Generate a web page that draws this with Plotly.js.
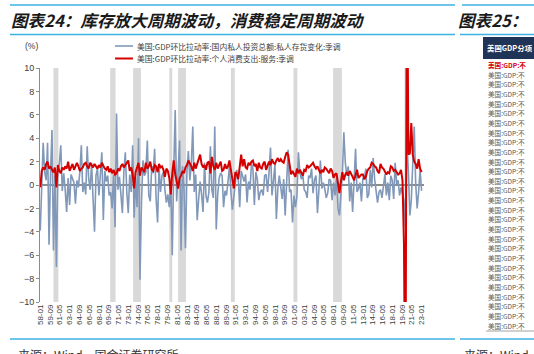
<!DOCTYPE html>
<html><head><meta charset="utf-8">
<script src="https://cdn.plot.ly/plotly-3.0.1.min.js"></script>
<style>html,body{margin:0;padding:0;background:#fff;overflow:hidden}#chart{width:534px;height:354px}</style>
</head><body><div id="chart"></div>
<script>
const START_YEAR = 1958;
const INVENTORY = [
-3.9,-0.6,3.6,1.1, 0.4,3.6,-5.1,1.0, 4.7,-5.6,0.8,-7.0, 1.2,1.8,3.4,-0.5,
1.0,-0.4,-2.3,0.6, -1.7,0.9,0.5,0.2, -1.6,0.4,-0.2,1.1, 3.4,-0.6,0.2,-0.8,
3.3,0.6,-0.4,1.9, -1.2,-4.0,0.8,1.4, -0.9,1.3,2.8,-3.0, 1.2,0.3,0.8,-0.9,
-0.6,-2.0,0.9,-3.6, 6.1,-0.4,0.7,-0.8, -2.4,1.1,2.8,-0.6, -2.4,0.9,-0.6,3.4,
-2.8,0.6,-1.9,4.0, -8.1,-1.6,2.1,0.8, 1.1,3.8,-0.9,-1.4, 1.6,1.0,3.1,-1.2,
-3.2,1.6,-0.6,0.8, 1.1,-0.4,-1.5,-0.8, -1.9,0.4,-6.0,1.3, 6.4,-1.4,1.0,3.8,
-5.6,1.6,-0.3,-5.4, 1.2,2.9,0.4,1.8, 5.0,-0.6,0.9,-3.0, -1.2,0.3,-0.8,-2.3,
1.9,-0.9,-1.5,-0.6, 3.3,-0.4,-1.1,5.0, -3.8,-0.8,0.6,1.0, 0.8,-1.9,-0.5,-0.9,
0.3,1.6,-0.6,-2.1, -1.0,0.4,1.3,0.6, -1.9,1.2,0.6,0.3, 0.9,-1.5,0.3,-0.4,
1.8,1.4,-1.7,1.1, 0.5,-1.3,-0.6,-0.4, -0.9,0.8,0.9,-0.6, 1.1,3.2,-0.9,0.6,
1.7,-2.9,-0.3,0.8, -0.5,-1.2,0.5,-2.6, 0.2,3.0,-0.6,-0.4, -3.2,-0.9,-1.9,-1.0,
2.8,1.1,0.5,0.9, -0.4,-0.6,-1.1,0.8, 0.6,1.4,-0.7,0.5, 0.8,-2.4,-0.4,2.1,
-0.3,0.2,-0.3,-1.1, -0.7,0.5,0.4,-1.3, 0.2,-0.9,0.6,-2.0, -2.6,-1.0,0.9,4.5,
1.9,0.8,1.6,-1.4, 0.2,-2.3,0.6,3.1, -0.6,-0.3,0.2,-1.4, 0.6,0.5,1.4,-1.1,
-0.8,1.3,-0.2,2.3, 0.5,-0.4,-1.5,-0.6, -0.4,-1.1,0.1,0.9, -0.9,0.2,-1.3,0.8,
0.4,-1.2,1.9,0.1, 0.4,-0.9,-0.2,-0.8, -1.3,-3.6,3.6,1.2, -2.6,-1.3,2.0,5.0,
0.1,-2.0,-0.6,1.3, -0.5];
const SERVICES = [
-0.2,1.2,1.5,1.3, 1.8,2.0,1.4,1.6, 1.3,1.1,1.5,-0.2, 1.7,1.2,1.0,1.5,
1.3,1.6,1.4,2.0, 1.2,1.5,1.8,1.3, 1.7,1.9,1.6,1.2, 1.4,1.5,1.8,1.9,
1.6,1.4,1.9,1.7, 1.5,1.8,1.6,1.4, 1.7,1.5,1.9,1.6, 1.4,1.3,1.6,1.1,
1.4,1.0,1.3,0.9, 1.0,1.4,1.2,1.6, 1.8,1.5,1.7,1.9, 2.1,1.2,1.5,0.9,
-0.3,1.1,1.5,1.9, 0.8,1.5,1.3,1.1, 1.9,1.4,1.6,2.0, 1.3,1.2,1.7,1.6,
1.1,1.8,1.5,1.6, 1.3,0.7,1.4,1.2, 0.6,-0.8,1.0,2.1, 0.9,0.4,-0.3,0.6,
0.8,1.2,1.0,1.5, 1.7,2.1,1.9,1.6, 1.2,1.9,1.4,1.8, 2.2,2.6,1.8,1.5,
1.7,1.3,1.9,2.0, 1.0,2.4,1.6,1.3, 1.9,1.4,1.7,2.0, 1.2,1.3,1.8,1.4,
1.6,2.1,1.3,0.4, -0.3,1.1,0.9,0.5, 1.8,2.6,1.6,2.2, 1.5,1.4,1.9,1.7,
2.0,2.1,1.6,1.8, 1.2,1.9,1.5,1.4, 1.8,2.0,1.3,1.7, 2.0,1.7,2.2,1.9,
1.8,2.1,2.3,2.0, 2.2,2.0,1.9,2.4, 2.8,2.6,1.9,0.9, 1.2,0.9,0.7,1.4,
1.0,1.3,1.1,0.8, 1.3,1.2,1.7,1.5, 1.6,1.8,1.9,1.6, 1.4,1.6,1.2,1.0,
1.3,1.1,1.5,1.4, 1.2,1.0,1.4,1.2, 0.6,0.9,1.0,0.2, -0.7,0.3,1.1,0.4,
0.9,1.1,0.8,1.2, 1.0,0.7,0.4,0.9, 1.3,0.6,0.8,0.9, 0.9,0.5,0.7,1.2,
1.4,1.5,1.9,1.8, 1.6,1.5,1.2,1.0, 1.8,1.5,1.4,1.2, 0.9,1.1,1.0,1.6,
1.5,1.2,1.3,1.1, 0.9,1.0,1.3,0.4, -5.0,-22.5,24.0,2.6, 2.7,5.3,2.6,2.0,
1.8,1.4,2.2,1.4, 1.1];
const SERIES_NAMES = ['美国:GDP环比拉动率:国内私人投资总额:私人存货变化:季调','美国:GDP环比拉动率:个人消费支出:服务:季调'];
const TICK_LABELS = ['58-01','59-09','61-05','63-01','64-09','66-05','68-01','69-09','71-05','73-01','74-09','76-05','78-01','79-09','81-05','83-01','84-09','86-05','88-01','89-09','91-05','93-01','94-09','96-05','98-01','99-09','01-05','03-01','04-09','06-05','08-01','09-09','11-05','13-01','14-09','16-05','18-01','19-09','21-05','23-01'];
const REC_START = ['1960-04-01','1969-12-01','1973-11-01','1980-01-01','1981-07-01','1990-07-01','2001-03-01','2007-12-01','2020-02-01'];
const REC_END   = ['1961-02-01','1970-11-01','1975-03-01','1980-07-01','1982-11-01','1991-03-01','2001-11-01','2009-06-01','2020-04-01'];
const TITLE_LEFT = '图表24：库存放大周期波动，消费稳定周期波动';
const TITLE_RIGHT = '图表25：';
const SOURCE_LEFT = '来源：Wind，国金证券研究所';
const SOURCE_RIGHT = '来源：Wind';
const TABLE_HEADER = '美国GDP分项';
const TABLE_ROW = '美国:GDP:不';
const TABLE_ROWS = 28;

const W = 534, H = 354;
const px = x => x / W, py = y => 1 - y / H;
const dates = INVENTORY.map((_, i) => {
  const y = START_YEAR + Math.floor(i / 4), m = (i % 4) * 3 + 1;
  return y + '-' + String(m).padStart(2, '0') + '-01';
});
const tickvals = TICK_LABELS.map(t => {
  const yy = +t.slice(0, 2); const y = yy >= 50 ? 1900 + yy : 2000 + yy;
  return y + '-' + t.slice(3) + '-01';
});
const BLUE = '#8198b9', RED = '#d40000', ACCENT = '#3fb0e3';
const CJK = '"Noto Sans CJK SC", "Liberation Sans", sans-serif';

const traces = [
  {x: dates, y: INVENTORY, type: 'scatter', mode: 'lines', name: SERIES_NAMES[0], line: {color: BLUE, width: 1.6}},
  {x: dates, y: SERVICES, type: 'scatter', mode: 'lines', name: SERIES_NAMES[1], line: {color: RED, width: 2}}
];

const shapes = [];
REC_START.forEach((s, k) => shapes.push({type: 'rect', xref: 'x', yref: 'y', x0: s, x1: REC_END[k], y0: -10, y1: 10, fillcolor: '#d9d9d9', line: {width: 0}, layer: 'below'}));
const hline = (x0, x1, y, color, w) => shapes.push({type: 'line', xref: 'paper', yref: 'paper', x0: px(x0), x1: px(x1), y0: py(y), y1: py(y), line: {color: color, width: w}});
hline(10, 455, 5, ACCENT, 1.5); hline(462, 534, 5, ACCENT, 1.5);
hline(10, 455, 34.5, ACCENT, 1.5); hline(460, 534, 34.5, ACCENT, 1.5);
hline(10, 455, 339, ACCENT, 1.5); hline(460, 534, 339, ACCENT, 1.5);
hline(115, 133, 46, BLUE, 1.6); hline(115, 133, 58.5, RED, 2);
shapes.push({type: 'rect', xref: 'paper', yref: 'paper', x0: px(483), x1: px(540), y0: py(59), y1: py(37), fillcolor: '#203457', line: {width: 0}});
hline(486, 534, 331, '#8c8c8c', 0.8);

const ann = [];
const text = (x, y, t, opt) => ann.push(Object.assign({xref: 'paper', yref: 'paper', x: px(x), y: py(y), text: t, showarrow: false, xanchor: 'left', yanchor: 'middle', borderpad: 0}, opt));
text(10, 20, TITLE_LEFT, {font: {family: CJK, size: 16.6, color: '#1a1a1a', style: 'italic', weight: 'bold'}});
text(457, 20, TITLE_RIGHT, {font: {family: CJK, size: 16.6, color: '#1a1a1a', style: 'italic', weight: 'bold'}});
text(31, 46, '(%)', {xanchor: 'center', font: {family: 'Liberation Sans', size: 8.5, color: '#404040'}});
text(136, 46, SERIES_NAMES[0], {font: {family: CJK, size: 7.8, color: '#404040'}});
text(136, 58.5, SERIES_NAMES[1], {font: {family: CJK, size: 7.8, color: '#404040'}});
text(17, 345, SOURCE_LEFT, {yanchor: 'top', font: {family: CJK, size: 12, color: '#333'}});
text(463, 345, SOURCE_RIGHT, {yanchor: 'top', font: {family: CJK, size: 12, color: '#333'}});
text(486, 48, TABLE_HEADER, {font: {family: CJK, size: 7.4, color: '#ffffff', weight: 'bold'}});
for (let k = 0; k < TABLE_ROWS; k++) {
  text(487, 65 + k * 9.65, TABLE_ROW, {font: {family: CJK, size: 6.6, color: k === 0 ? '#d40000' : '#595959', weight: k === 0 ? 'bold' : 'normal'}});
}

const layout = {
  width: W, height: H, margin: {l: 0, r: 0, t: 0, b: 0},
  paper_bgcolor: '#fff', plot_bgcolor: 'rgba(0,0,0,0)', showlegend: false,
  xaxis: {type: 'date', domain: [px(40), px(424)], range: ['1957-12-15', '2023-06-01'],
    tickvals: tickvals, ticktext: TICK_LABELS, tickangle: -90, showgrid: false, zeroline: false, showline: false, ticks: '',
    tickfont: {family: 'Liberation Sans', size: 8, color: '#404040'}},
  yaxis: {domain: [py(302), py(68)], range: [-10, 10], dtick: 2, showgrid: false,
    zeroline: true, zerolinecolor: '#8c8c8c', zerolinewidth: 1.2,
    showline: true, linecolor: '#8c8c8c', linewidth: 1, ticks: 'outside', ticklen: 3, tickcolor: '#8c8c8c',
    tickfont: {family: 'Liberation Sans', size: 9, color: '#404040'}},
  shapes: shapes, annotations: ann
};
Plotly.newPlot('chart', traces, layout, {staticPlot: true, displayModeBar: false});
</script></body></html>
